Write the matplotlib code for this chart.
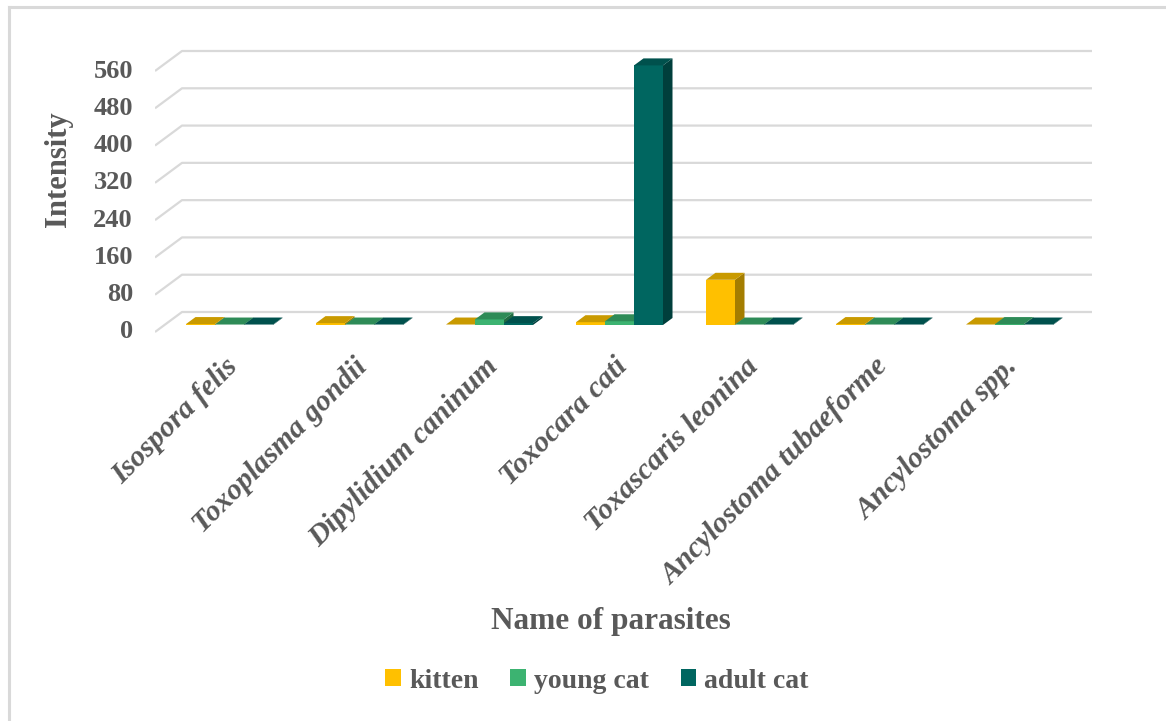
import numpy as np
import matplotlib.pyplot as plt
from matplotlib.patches import Polygon, Patch
from matplotlib.lines import Line2D
from matplotlib.transforms import offset_copy

parasites = ['Isospora felis', 'Toxoplasma gondii', 'Dipylidium caninum', 'Toxocara cati',
             'Toxascaris leonina', 'Ancylostoma tubaeforme', 'Ancylostoma spp.']
kitten = [2, 4, 1, 6, 97, 2, 1]
young_cat = [1, 1, 12, 8, 1, 1, 2]
adult_cat = [1, 1, 4, 557, 1, 1, 1]
series = ['kitten', 'young cat', 'adult cat']
yticks = [0, 80, 160, 240, 320, 400, 480, 560]

# front, top, side colours for each series
colours = [('#FFC000', '#C99A00', '#A47D00'),
           ('#3CB371', '#2E8B57', '#216B42'),
           ('#006660', '#00514D', '#003F3C')]
grey = '#595959'
serif = ['Liberation Serif', 'DejaVu Serif']

W, H = 1166, 721
fig = plt.figure(figsize=(W / 100, H / 100), dpi=100)

# plot box in pixels: floor front-left (155, 332), back wall right 1092
px_cat = 130.0
px_val = 261.0 / 560
left_px, right_px = 155, 1092
top_px, bot_px = 40, 340
floor_dx, floor_dy = 27 / px_cat, 20 / px_val      # depth of the floor
bar_dx, bar_dy = 9.5 / px_cat, 7 / px_val          # depth of a bar / front offset
bw = 29 / px_cat

ax = fig.add_axes([left_px / W, (H - bot_px) / H, (right_px - left_px) / W, (bot_px - top_px) / H])
ax.set_xlim(-0.5, -0.5 + (right_px - left_px) / px_cat)
ax.set_ylim(-(bot_px - 332) / px_val, (332 - top_px) / px_val)
ax.axis('off')

n = len(parasites)
xr = n - 0.5 + floor_dx
for v in yticks:
    ax.plot([-0.5, -0.5 + floor_dx, xr], [v, v + floor_dy, v + floor_dy],
            color='#d9d9d9', lw=1.6, solid_capstyle='butt', zorder=1)
    ax.text(-0.5, v, str(v), transform=offset_copy(ax.transData, fig, x=-22, y=0, units='dots'),
            ha='right', va='center', fontsize=19, fontweight='bold', family=serif, color=grey)

z = 2
for i in range(n):
    vals = [kitten[i], young_cat[i], adult_cat[i]]
    for j, v in enumerate(vals):
        fc, tc, sc = colours[j]
        x0 = i - 1.5 * bw + bar_dx + j * bw
        y0 = bar_dy
        front = Polygon([(x0, y0), (x0 + bw, y0), (x0 + bw, y0 + v), (x0, y0 + v)], closed=True,
                        facecolor=fc, edgecolor='none', zorder=z)
        top = Polygon([(x0, y0 + v), (x0 + bw, y0 + v), (x0 + bw + bar_dx, y0 + v + bar_dy),
                       (x0 + bar_dx, y0 + v + bar_dy)], closed=True,
                      facecolor=tc, edgecolor='none', zorder=z)
        side = Polygon([(x0 + bw, y0), (x0 + bw + bar_dx, y0 + bar_dy),
                        (x0 + bw + bar_dx, y0 + v + bar_dy), (x0 + bw, y0 + v)], closed=True,
                       facecolor=sc, edgecolor='none', zorder=z)
        for p in (side, front, top):
            ax.add_patch(p)
        z += 1

for i, name in enumerate(parasites):
    ax.text(i, 0, name, transform=offset_copy(ax.transData, fig, x=4, y=-21, units='dots'),
            rotation=45, rotation_mode='anchor', ha='right', va='top', fontsize=21.5,
            fontweight='bold', fontstyle='italic', family=serif, color=grey)

fig.text(59 / W, 1 - 169 / H, 'Intensity', rotation=90, ha='center', va='center',
         fontsize=22, fontweight='bold', family=serif, color=grey)
fig.text(611 / W, 1 - 621 / H, 'Name of parasites', ha='center', va='center',
         fontsize=22.5, fontweight='bold', family=serif, color=grey)

handles = [Patch(facecolor=c[0], edgecolor='none') for c in colours]
fig.legend(handles, series, loc='center', bbox_to_anchor=(597 / W, 1 - 681 / H), ncol=3,
           frameon=False, handlelength=0.55, handleheight=0.55, handletextpad=0.3,
           columnspacing=1.15, prop={'family': serif, 'weight': 'bold', 'size': 20},
           labelcolor=grey)

# chart frame (top and left edges)
fig.add_artist(Line2D([9 / W, 9 / W], [0, 1 - 7 / H], color='#d9d9d9', lw=2.2))
fig.add_artist(Line2D([9 / W, 1], [1 - 7 / H, 1 - 7 / H], color='#d9d9d9', lw=2.2))

fig.savefig('out.png', dpi=100, facecolor='white')
